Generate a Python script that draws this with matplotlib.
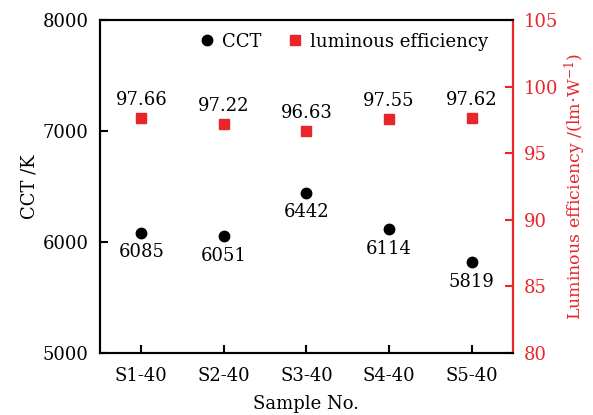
import matplotlib.pyplot as plt

plt.rcParams['font.family'] = ['DejaVu Serif']
plt.rcParams['mathtext.fontset'] = 'dejavuserif'

samples = ['S1-40', 'S2-40', 'S3-40', 'S4-40', 'S5-40']
cct = [6085, 6051, 6442, 6114, 5819]
efficiency = [97.66, 97.22, 96.63, 97.55, 97.62]

red = '#e8262a'
x = list(range(1, len(samples) + 1))

fig = plt.figure(figsize=(5.93, 4.15), dpi=100)
ax = fig.add_axes([0.1686, 0.1494, 0.6964, 0.8024])
ax2 = ax.twinx()

h1, = ax.plot(x, cct, 'o', color='black', markersize=7.5, linestyle='none', label='CCT')
h2, = ax2.plot(x, efficiency, 's', color=red, markersize=7, linestyle='none',
               label='luminous efficiency')

# value labels: CCT below the dots, efficiency above the squares
for xi, v in zip(x, cct):
    ax.annotate(str(v), (xi, v), xytext=(0, -14), textcoords='offset points',
                ha='center', va='center', fontsize=13)
for xi, v in zip(x, efficiency):
    ax2.annotate(f'{v:.2f}', (xi, v), xytext=(0, 13), textcoords='offset points',
                 ha='center', va='center', fontsize=13)

ax.set_xlim(0.5, 5.5)
ax.set_ylim(5000, 8000)
ax.set_yticks([5000, 6000, 7000, 8000])
ax.set_xticks(x)
ax.set_xticklabels(samples)
ax2.set_ylim(80, 105)
ax2.set_yticks([80, 85, 90, 95, 100, 105])

ax.set_xlabel('Sample No.', fontsize=13, labelpad=7)
ax.set_ylabel('CCT /K', fontsize=13, labelpad=3)
ax2.set_ylabel(r'Luminous efficiency /(lm$\cdot$W$^{-1}$)', fontsize=12.5,
               color=red, labelpad=3)

for a in (ax, ax2):
    for s in a.spines.values():
        s.set_linewidth(1.5)
ax.tick_params(axis='y', direction='in', length=6, width=1.5, labelsize=13, pad=8)
ax.tick_params(axis='x', direction='in', length=6, width=1.5, labelsize=13, pad=10)
ax2.tick_params(direction='in', length=6, width=1.5, labelsize=13, pad=8,
                colors=red)
ax2.spines['right'].set_color(red)

ax.legend([h1, h2], ['CCT', 'luminous efficiency'], loc='center left',
          bbox_to_anchor=(0.22, 0.935), ncol=2, frameon=False, fontsize=13,
          handletextpad=0.3, columnspacing=1.4, handlelength=1,
          borderaxespad=0)

fig.savefig('out.png', dpi=100)
